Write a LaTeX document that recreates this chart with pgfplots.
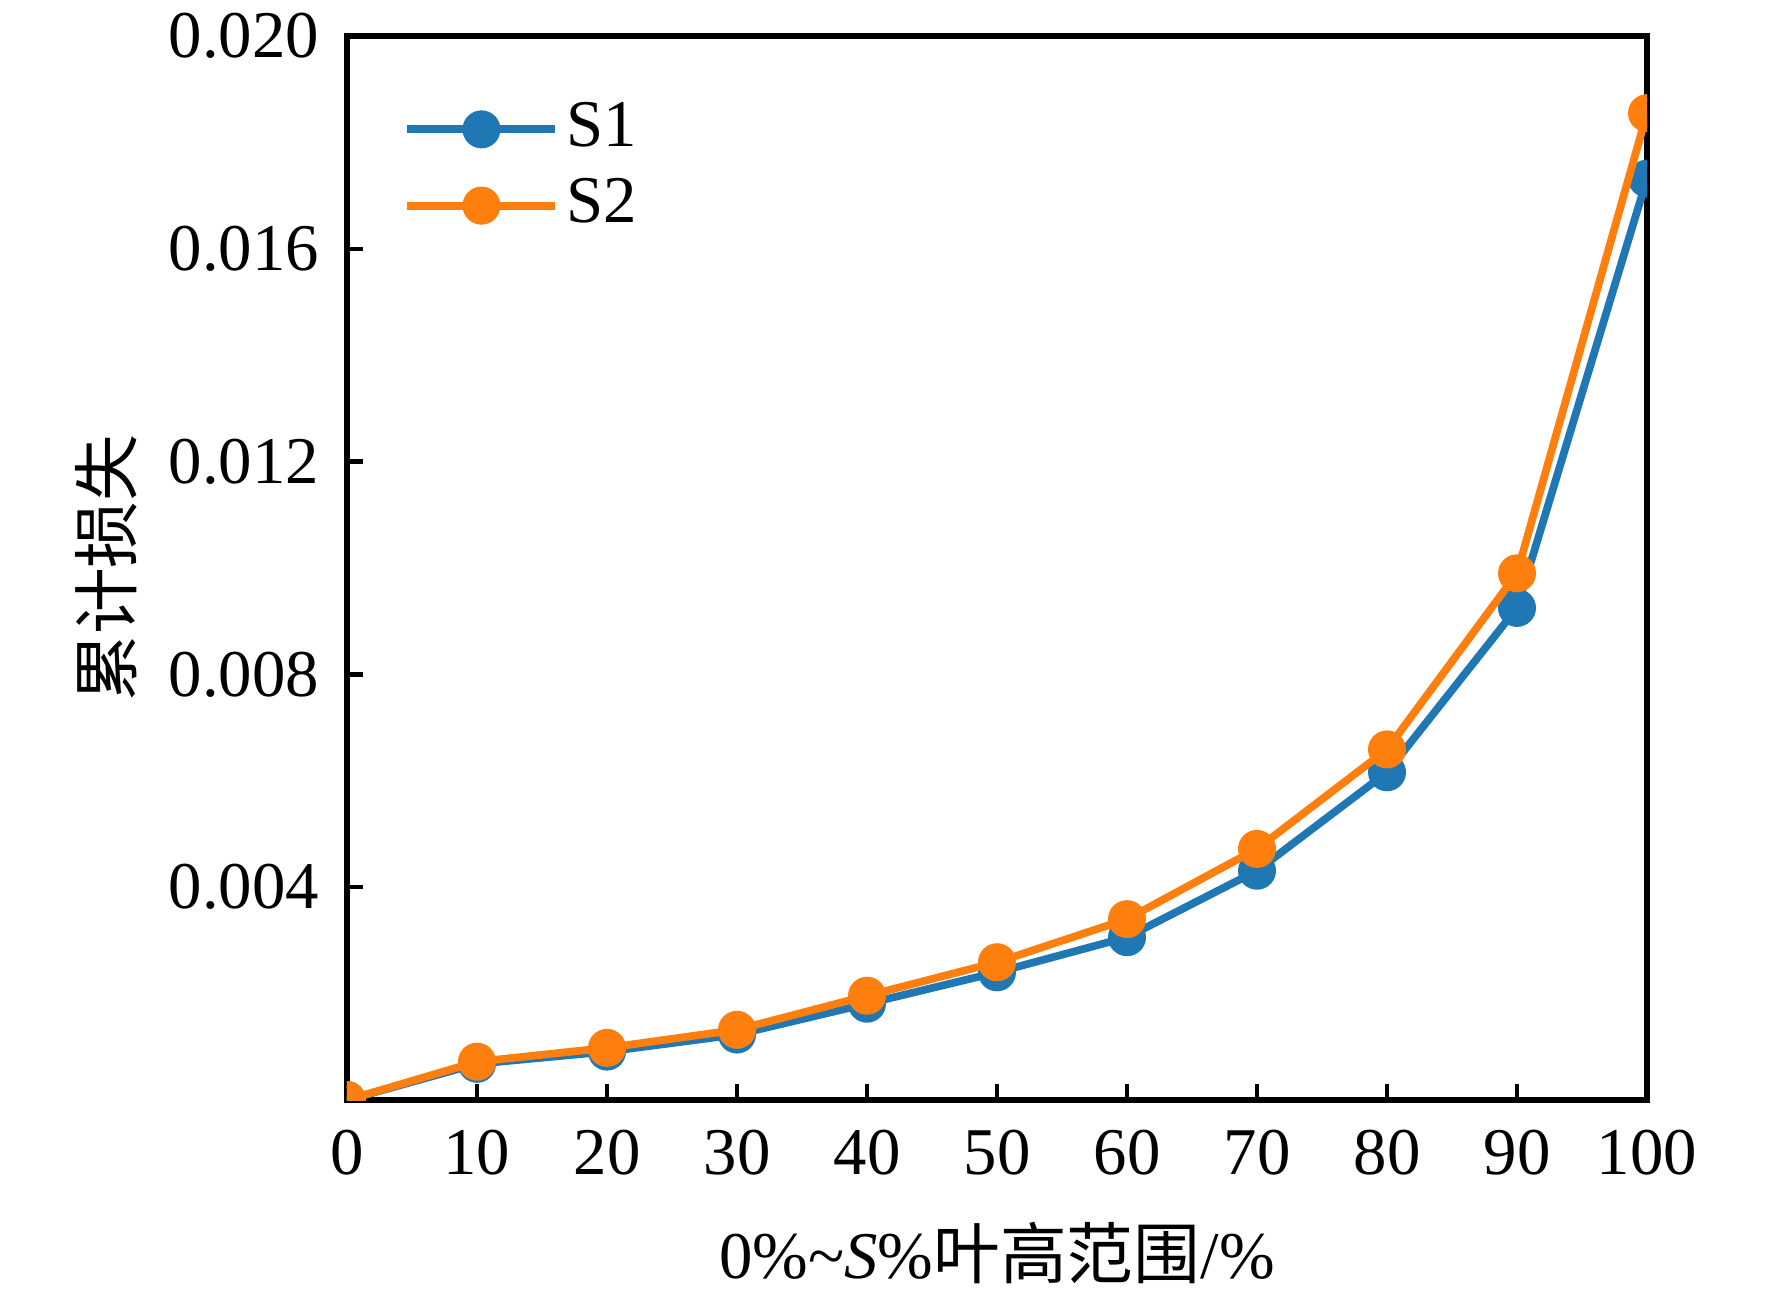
\documentclass[border=0pt]{standalone}
\usepackage{fontspec}
\setmainfont{Liberation Serif}
\newfontfamily\cjk{Noto Sans CJK SC}
\usepackage{pgfplots}
\pgfplotsset{compat=1.18}
\definecolor{tabblue}{HTML}{1F77B4}
\definecolor{taborange}{HTML}{FF7F0E}
\begin{document}
\fontsize{19}{23}\selectfont
\begin{tikzpicture}
\begin{axis}[
  at={(0,0)}, anchor=south west,
  width=13.0cm, height=10.64cm, scale only axis,
  xmin=0, xmax=100, ymin=0, ymax=0.020,
  xtick={0,10,...,100},
  ytick={0.004,0.008,0.012,0.016,0.020},
  yticklabels={0.004,0.008,0.012,0.016,0.020},
  scaled y ticks=false,
  /pgf/number format/assume math mode=true,
  tick align=inside, tick pos=left,
  major tick length=0.16cm,
  axis line style={line width=1.5pt},
  every tick/.style={black, line width=1.3pt},
  xticklabel style={yshift=-0.07cm},
  yticklabel style={xshift=-0.05cm},
  xlabel={0\%\textasciitilde\textit{S}\%{\cjk 叶高范围}/\%},
  xlabel style={at={(axis description cs:0.5,-0.144)}, anchor=center},
  ylabel={\cjk 累计损失},
  ylabel style={at={(axis description cs:-0.185,0.5)}, anchor=center},
  clip marker paths=true,
  legend style={draw=none, fill=none, at={(axis description cs:0.043,0.945)}, anchor=north west,
    inner sep=0pt, row sep=0.08cm, /tikz/every even column/.append style={column sep=0.08cm}},
  legend cell align=left,
  legend image code/.code={
    \draw[#1, mark repeat=2, mark phase=2] plot coordinates {(0cm,0cm) (0.74cm,0cm) (1.48cm,0cm)};
  },
]
\addplot[tabblue, line width=2.2pt, mark=*, mark size=4.3pt] coordinates {
(0,0) (10,0.00068) (20,0.00091) (30,0.00123) (40,0.00181) (50,0.00240)
(60,0.00306) (70,0.00431) (80,0.00616) (90,0.00925) (100,0.01732)};
\addlegendentry{S1}
\addplot[taborange, line width=2.2pt, mark=*, mark size=4.3pt] coordinates {
(0,0) (10,0.00072) (20,0.00098) (30,0.00132) (40,0.00196) (50,0.00259)
(60,0.00340) (70,0.00472) (80,0.00659) (90,0.00990) (100,0.01855)};
\addlegendentry{S2}
\end{axis}
\pgfresetboundingbox
\path[use as bounding box] (-3.47,-1.93) rectangle (14.25,11.0);
\end{tikzpicture}
\end{document}
